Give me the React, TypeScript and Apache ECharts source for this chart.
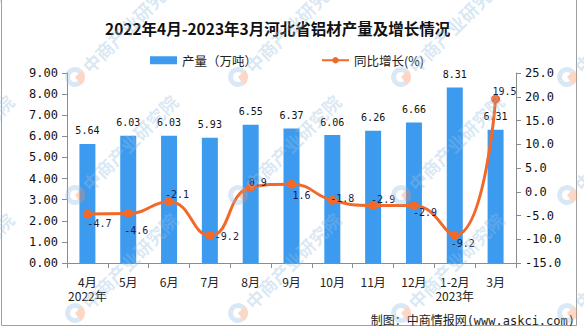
import React, { useEffect, useRef } from "react";
import * as echarts from "echarts";

const titleText = "2022年4月-2023年3月河北省铝材产量及增长情况";
const categories = ["4月\n2022年", "5月", "6月", "7月", "8月", "9月", "10月", "11月", "12月", "1-2月\n2023年", "3月"];
const outputValues = [5.64, 6.03, 6.03, 5.93, 6.55, 6.37, 6.06, 6.26, 6.66, 8.31, 6.31];
const growthValues = [-4.7, -4.6, -2.1, -9.2, 0.9, 1.6, -1.8, -2.9, -2.9, -9.2, 19.5];
const barName = "产量（万吨）";
const lineName = "同比增长(%)";
const leftAxisRange = { min: 0, max: 9, interval: 1 };
const rightAxisRange = { min: -15, max: 25, interval: 5 };
const footerText = "制图：中商情报网(www.askci.com)";
const watermarkText = "中商产业研究院";

// label placement (style only)
const growthLabelOffsets = [
  [12, 9], [8, 17], [8, -7], [17, 1], [7, -5], [10, 11],
  [10, -2], [10, -6], [11, 7], [8, 8], [9, -8],
];

const MONO = "'DejaVu Sans Mono', 'Noto Sans CJK SC', monospace";
const CJK = "'Noto Sans CJK SC', sans-serif";

function watermarks(): any[] {
  const out: any[] = [];
  const xs = [-89, 75, 238, 401, 567];
  const ys = [77, 195, 313];
  for (const x0 of xs) {
    for (const y0 of ys) {
      out.push({
        type: "sector",
        silent: true,
        z: 100,
        shape: { cx: x0, cy: y0, r: 10, r0: 5, startAngle: Math.PI * 0.3, endAngle: Math.PI * 1.75 },
        style: { fill: "rgba(150,190,225,0.35)" },
      });
      out.push({
        type: "sector",
        silent: true,
        z: 100,
        shape: { cx: x0, cy: y0, r: 10, r0: 0, startAngle: Math.PI * 1.75, endAngle: Math.PI * 2.3 },
        style: { fill: "rgba(245,140,90,0.35)" },
      });
      out.push({
        type: "text",
        silent: true,
        z: 100,
        x: x0 + 10,
        y: y0 - 8,
        rotation: Math.PI / 4,
        style: {
          text: watermarkText,
          font: `bold 18px ${CJK}`,
          fill: "rgba(150,190,225,0.35)",
          textAlign: "left",
          textVerticalAlign: "middle",
        },
      });
    }
  }
  return out;
}

export default function App() {
  const ref = useRef<HTMLDivElement>(null);
  useEffect(() => {
    if (!ref.current) return;
    const chart = echarts.init(ref.current, undefined, { renderer: "svg" });
    const axisLineStyle = { color: "#8c8c8c", width: 1 };
    chart.setOption({
      animation: false,
      backgroundColor: "#fff",
      title: {
        text: titleText,
        left: 105,
        top: 19,
        padding: 0,
        textStyle: { fontSize: 15.5, fontWeight: "bold", color: "#111", fontFamily: CJK, lineHeight: 18 },
      },
      legend: {
        left: 150,
        top: 54,
        padding: 0,
        itemGap: 64,
        itemWidth: 27,
        itemHeight: 8,
        textStyle: { fontSize: 12.5, color: "#222", fontFamily: CJK },
        data: [{ name: barName, icon: "rect" }, { name: lineName }],
      },
      grid: { left: 67, right: 68, top: 73, bottom: 64, containLabel: false },
      xAxis: {
        type: "category",
        data: categories,
        boundaryGap: true,
        axisLine: { lineStyle: axisLineStyle },
        axisTick: { show: true, length: 5, lineStyle: axisLineStyle },
        axisLabel: { color: "#222", fontSize: 12, fontFamily: CJK, margin: 11, lineHeight: 14, interval: 0 },
      },
      yAxis: [
        {
          type: "value",
          ...leftAxisRange,
          axisLine: { show: true, lineStyle: axisLineStyle },
          axisTick: { show: true, length: 5, lineStyle: axisLineStyle },
          splitLine: { show: false },
          axisLabel: { color: "#111", fontSize: 12, fontFamily: MONO, margin: 9, formatter: (v: number) => v.toFixed(2) },
        },
        {
          type: "value",
          ...rightAxisRange,
          position: "right",
          axisLine: { show: true, lineStyle: axisLineStyle },
          axisTick: { show: true, length: 5, lineStyle: axisLineStyle },
          splitLine: { show: false },
          axisLabel: { color: "#111", fontSize: 12, fontFamily: MONO, margin: 9, formatter: (v: number) => v.toFixed(1) },
        },
      ],
      series: [
        {
          name: barName,
          type: "bar",
          data: outputValues,
          barWidth: 16,
          itemStyle: { color: "#3D9BEF" },
          label: {
            show: true,
            position: "top",
            distance: 8,
            color: "#111",
            fontSize: 10,
            fontFamily: MONO,
            formatter: (p: any) => Number(p.value).toFixed(2),
          },
        },
        {
          name: lineName,
          type: "line",
          yAxisIndex: 1,
          data: growthValues.map((v, i) => ({
            value: v,
            label: { offset: growthLabelOffsets[i] },
          })),
          smooth: 0.5,
          symbol: "circle",
          symbolSize: 9,
          z: 5,
          lineStyle: { color: "#F2692A", width: 3 },
          itemStyle: { color: "#F2692A" },
          label: {
            show: true,
            position: "inside",
            color: "#1c1c44",
            fontSize: 10,
            fontFamily: MONO,
            formatter: (p: any) => String(p.value),
          },
        },
      ],
      graphic: [
        {
          type: "rect",
          silent: true,
          shape: { x: 1.5, y: -2, width: 575, height: 327.5 },
          style: { fill: "none", stroke: "#a0a0a0", lineWidth: 1 },
        },
        {
          type: "text",
          silent: true,
          x: 575,
          y: 321,
          style: {
            text: footerText,
            font: `12px ${MONO}`,
            fill: "#222",
            textAlign: "right",
            textVerticalAlign: "middle",
          },
        },
        ...watermarks(),
      ],
    });
    return () => chart.dispose();
  }, []);
  return (
    <div
      ref={ref}
      style={{ position: "fixed", left: 0, top: 0, width: 584, height: 327 }}
    />
  );
}
